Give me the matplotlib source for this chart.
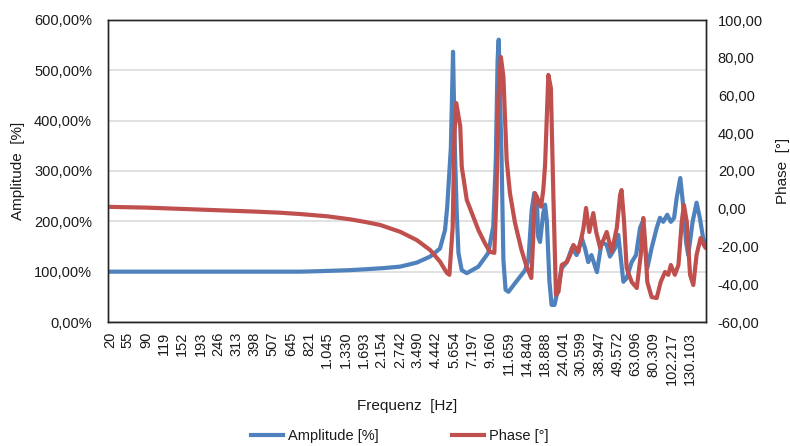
import matplotlib.pyplot as plt
from matplotlib.lines import Line2D
from matplotlib.ticker import FuncFormatter

plt.rcParams['font.family'] = ['Liberation Sans', 'DejaVu Sans']

# Kategorie-Beschriftungen (jede 5. Frequenz der Messreihe, 165 Kategorien)
freq_labels = ['20', '55', '90', '119', '152', '193', '246', '313', '398', '507',
               '645', '821', '1.045', '1.330', '1.693', '2.154', '2.742', '3.490',
               '4.442', '5.654', '7.197', '9.160', '11.659', '14.840', '18.888',
               '24.041', '30.599', '38.947', '49.572', '63.096', '80.309',
               '102.217', '130.103']
n_categories = 165
label_step = 5

# Amplitude [%] (Kategorie-Index, Wert)
amp_idx = [0, 52.5, 58.0, 66.3, 71.0, 75.4, 80.1, 84.7, 88.4, 91.1, 92.5, 93.1, 94.1, 94.7, 95.2,
           95.7, 96.2, 97.1, 98.5, 101.7, 104.4, 105.8, 106.5, 107.0, 107.3, 108.1,
           108.6, 109.2, 110.0, 111.8, 114.6, 115.5, 116.4, 117.1, 117.8, 118.2, 118.7,
           119.6, 120.1, 120.6, 121.3, 121.9, 122.7, 123.5, 124.7, 126.1, 127.5, 128.8,
           130.2, 131.1, 132.0, 132.9, 134.4, 135.7, 137.1, 138.0, 139.4, 140.3, 140.9,
           141.7, 142.6, 144.0, 145.2, 146.3, 147.0, 147.7, 148.3, 149.5, 150.9, 151.8,
           152.7, 153.8, 154.8, 155.7, 156.4, 157.4, 158.1, 159.0, 159.6, 160.8, 161.9,
           162.8, 163.7, 164.4]
amp_val = [100, 100, 101, 103, 105, 107, 110, 118, 130, 146, 183, 229, 346, 537, 346,
           222, 137, 103, 97, 110, 137, 190, 322, 521, 561, 322,
           123, 64, 60, 77, 103, 123, 222, 256, 249, 169, 159,
           216, 233, 199, 80, 34, 34, 60, 107, 119, 147, 133,
           167, 147, 119, 133, 99, 159, 153, 130, 147, 173, 133,
           80, 87, 119, 133, 187, 199, 147, 107, 147, 187, 207,
           199, 213, 199, 207, 246, 286, 239, 159, 133, 199, 237,
           207, 167, 153]

# Phase [°]
phase_idx = [0, 10, 20, 30, 40, 47, 52.5, 60, 66.3, 70.5, 74.6, 80.1, 84.7, 88.4, 91.1, 93.0, 93.7,
             94.6, 95.1, 95.6, 96.7, 97.1, 98.5, 99.9, 101.7, 103.5, 104.9, 106.1,
             106.7, 107.2, 107.9, 108.6, 109.5, 110.4, 111.8, 113.6, 115.0, 116.3, 116.9,
             117.3, 118.2, 119.0, 119.6, 120.1, 121.0, 121.7, 122.4, 123.1, 123.8, 124.7,
             126.1, 127.0, 127.9, 129.3, 130.7, 131.4, 132.3, 133.4, 134.2, 135.3, 137.1,
             138.5, 139.9, 140.8, 141.2, 141.9, 142.6, 144.0, 145.4, 146.5, 147.2, 147.7,
             148.3, 149.5, 150.9, 152.0, 153.2, 154.1, 154.8, 155.9, 156.9, 157.8, 158.4,
             159.2, 160.1, 161.0, 161.9, 163.0, 163.9, 164.4]
phase_val = [1.0, 0.6, -0.1, -0.8, -1.5, -2.1, -2.8, -4.0, -5.6, -7.0, -8.6, -12.2, -16.6, -21.9, -28, -34, -35,
             -10, 40.7, 56, 43.5, 22.3, 4.6, -2.3, -11.3, -18.3, -22.8, -23.4,
             8.3, 58.7, 80.4, 70, 25.8, 8.3, -7.5, -21.9, -30.7, -36.7, -12.8,
             8.3, 4.6, 1.1, 9.9, 23.2, 70.9, 64, 5.7, -45.7, -44, -29.8,
             -28.2, -24.5, -19.2, -22.9, -10.2, 0.4, -12.3, -2.3, -12.3, -20.8, -12.3,
             -22.9, -10, 7.3, 9.9, -7, -31.4, -38.8, -42, -24.5, -4.9, -17.6,
             -38.8, -46.8, -47.3, -38.8, -33.5, -35, -29.8, -35, -29.8, -7, 2,
             -7, -35, -40.4, -24.5, -15.5, -19.2, -20.8]

blue = '#4F81BD'
red = '#C0504D'
txt = '#1a1a1a'
lw = 3.0

fig = plt.figure(figsize=(7.9, 4.46), dpi=100, facecolor='white')
ax = fig.add_axes([108 / 790, 1 - 322 / 446, 598 / 790, 302 / 446])
ax2 = ax.twinx()

ax.plot(amp_idx, amp_val, color=blue, lw=lw, solid_joinstyle='round', solid_capstyle='round')
ax2.plot(phase_idx, phase_val, color=red, lw=lw, solid_joinstyle='round', solid_capstyle='round')

ax.set_xlim(-0.5, n_categories - 0.5)
ax.set_ylim(0, 600)
ax.set_yticks(range(0, 601, 100))
ax.yaxis.set_major_formatter(FuncFormatter(lambda v, p: f'{v:.2f}'.replace('.', ',') + '%'))
ax2.set_ylim(-60, 100)
ax2.set_yticks(range(-60, 101, 20))
ax2.yaxis.set_major_formatter(FuncFormatter(lambda v, p: f'{v:.2f}'.replace('.', ',')))

ax.set_xticks(range(0, n_categories, label_step))
ax.set_xticklabels(freq_labels, rotation=90, va='top', ha='center')

ax.grid(axis='y', color='#D9D9D9', lw=1.1)
ax.set_axisbelow(True)

for a in (ax, ax2):
    for s in a.spines.values():
        s.set_color('#262626')
        s.set_linewidth(1.0)
ax.tick_params(axis='y', length=0, pad=11.5, labelsize=10.5, colors=txt)
ax.tick_params(axis='x', length=0, pad=7, labelsize=10.5, colors=txt)
ax2.tick_params(axis='y', length=0, pad=8.5, labelsize=10.5, colors=txt)

fig.text(18 / 790, 1 - 171 / 446, 'Amplitude  [%]', rotation=90, ha='center', va='center',
         fontsize=11, color=txt)
fig.text(783 / 790, 1 - 171 / 446, 'Phase  [°]', rotation=90, ha='center', va='center',
         fontsize=11, color=txt)
fig.text(407 / 790, 1 - 406 / 446, 'Frequenz  [Hz]', ha='center', va='center',
         fontsize=11, color=txt)

handles = [Line2D([], [], color=blue, lw=lw), Line2D([], [], color=red, lw=lw)]
fig.legend(handles, ['Amplitude [%]', 'Phase [°]'], loc='center', ncol=2,
           bbox_to_anchor=(400 / 790, 1 - 436 / 446), frameon=False, fontsize=10.5,
           handlelength=2.2, handletextpad=0.35, columnspacing=5.0, labelcolor=txt)

fig.savefig('out.png', dpi=100)
